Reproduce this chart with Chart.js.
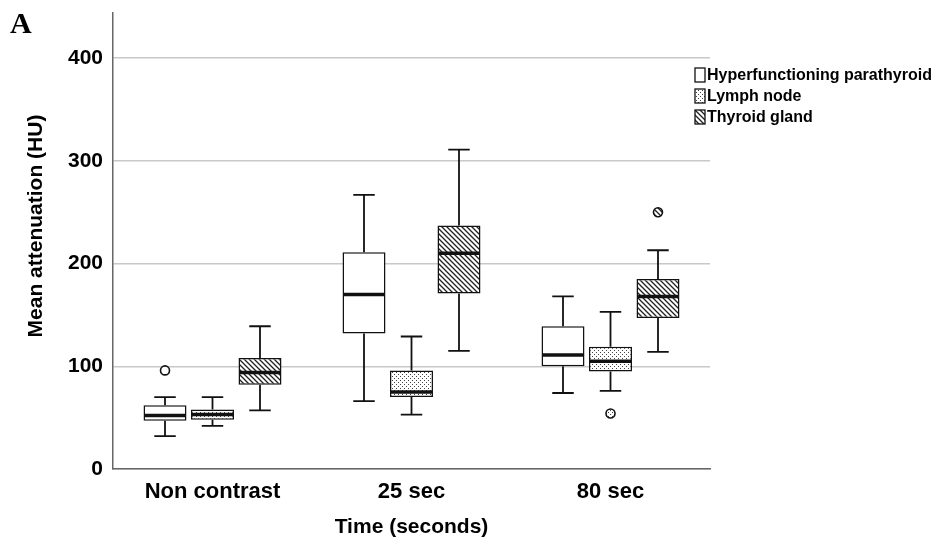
<!DOCTYPE html>
<html>
<head>
<meta charset="utf-8">
<script src="https://cdn.jsdelivr.net/npm/chart.js@4.4.1/dist/chart.umd.min.js"></script>
<style>
  html, body { margin: 0; padding: 0; background: #fff; }
  #wrap { width: 936px; height: 547px; position: relative; }
</style>
</head>
<body>
<div id="wrap"><canvas id="boxChart"></canvas></div>
<script>
const categories = ["Non contrast", "25 sec", "80 sec"];
const seriesNames = ["Hyperfunctioning parathyroid", "Lymph node", "Thyroid gland"];

// box plot values (HU)
const paraMin = [32, 66, 74];
const paraQ1 = [47, 132, 100];
const paraMedian = [52, 170, 111];
const paraQ3 = [62, 211, 139];
const paraMax = [70, 267, 168];
const paraOutliers = [[96], [], []];

const lymphMin = [42, 53, 76];
const lymphQ1 = [48, 70, 95];
const lymphMedian = [53, 75, 105];
const lymphQ3 = [58, 96, 119];
const lymphMax = [70, 129, 153];
const lymphOutliers = [[], [], [54]];

const thyroidMin = [57, 115, 114];
const thyroidQ1 = [82, 171, 147];
const thyroidMedian = [94, 210, 168];
const thyroidQ3 = [108, 237, 185];
const thyroidMax = [139, 311, 213];
const thyroidOutliers = [[], [], [250]];

const yTicks = [0, 100, 200, 300, 400];
const yTitle = "Mean attenuation (HU)";

const FONT = "'Liberation Sans', Arial, sans-serif";

function makeDots() {
  const c = document.createElement("canvas");
  c.width = 4;
  c.height = 4;
  const g = c.getContext("2d");
  g.fillStyle = "#fff";
  g.fillRect(0, 0, 4, 4);
  g.fillStyle = "#444";
  g.fillRect(0, 0, 1, 1);
  g.fillRect(2, 2, 1, 1);
  return g.createPattern(c, "repeat");
}

function makeHatch() {
  const s = 5;
  const c = document.createElement("canvas");
  c.width = s;
  c.height = s;
  const g = c.getContext("2d");
  g.fillStyle = "#fff";
  g.fillRect(0, 0, s, s);
  g.strokeStyle = "#222";
  g.lineWidth = 1.3;
  g.beginPath();
  g.moveTo(-1, -1);
  g.lineTo(s + 1, s + 1);
  g.moveTo(-1, s - 1);
  g.lineTo(1, s + 1);
  g.moveTo(s - 1, -1);
  g.lineTo(s + 1, 1);
  g.stroke();
  return g.createPattern(c, "repeat");
}

const fills = ["#ffffff", makeDots(), makeHatch()];

const boxes = [
  { min: paraMin, q1: paraQ1, med: paraMedian, q3: paraQ3, max: paraMax, out: paraOutliers },
  { min: lymphMin, q1: lymphQ1, med: lymphMedian, q3: lymphQ3, max: lymphMax, out: lymphOutliers },
  { min: thyroidMin, q1: thyroidQ1, med: thyroidMedian, q3: thyroidQ3, max: thyroidMax, out: thyroidOutliers },
];

const datasets = boxes.map(function (b, i) {
  return {
    label: seriesNames[i],
    data: b.q1.map(function (v, j) { return [v, b.q3[j]]; }),
    backgroundColor: fills[i],
    borderColor: "#111",
    borderWidth: 1.5,
    borderSkipped: false,
    categoryPercentage: 0.716,
    barPercentage: 0.905,
  };
});

// whiskers, medians, outliers, legend and y title drawn on top
const boxPlotPlugin = {
  id: "boxPlot",
  afterDatasetsDraw(chart) {
    const ctx = chart.ctx;
    const y = chart.scales.y;
    ctx.save();
    ctx.strokeStyle = "#111";
    boxes.forEach(function (b, i) {
      const meta = chart.getDatasetMeta(i);
      meta.data.forEach(function (bar, j) {
        const x = bar.x;
        const half = bar.width / 2;
        const cap = bar.width / 4;
        ctx.lineWidth = 1.8;
        ctx.beginPath();
        ctx.moveTo(x, y.getPixelForValue(b.q3[j]));
        ctx.lineTo(x, y.getPixelForValue(b.max[j]));
        ctx.moveTo(x - cap, y.getPixelForValue(b.max[j]));
        ctx.lineTo(x + cap, y.getPixelForValue(b.max[j]));
        ctx.moveTo(x, y.getPixelForValue(b.q1[j]));
        ctx.lineTo(x, y.getPixelForValue(b.min[j]));
        ctx.moveTo(x - cap, y.getPixelForValue(b.min[j]));
        ctx.lineTo(x + cap, y.getPixelForValue(b.min[j]));
        ctx.stroke();

        ctx.lineWidth = 3.5;
        ctx.beginPath();
        ctx.moveTo(x - half + 1, y.getPixelForValue(b.med[j]));
        ctx.lineTo(x + half - 1, y.getPixelForValue(b.med[j]));
        ctx.stroke();

        b.out[j].forEach(function (v) {
          ctx.lineWidth = 1.6;
          ctx.fillStyle = fills[i];
          ctx.beginPath();
          ctx.arc(x, y.getPixelForValue(v), 4.5, 0, Math.PI * 2);
          ctx.fill();
          ctx.stroke();
        });
      });
    });
    ctx.restore();
  },
  afterDraw(chart) {
    const ctx = chart.ctx;
    ctx.save();
    // panel letter
    ctx.fillStyle = "#000";
    ctx.font = "bold 30px 'Liberation Serif', 'Times New Roman', serif";
    ctx.textBaseline = "alphabetic";
    ctx.textAlign = "left";
    ctx.fillText("A", 10, 33);

    // y axis title, a bit above the plot centre as in the original
    ctx.save();
    ctx.translate(36, 226);
    ctx.rotate(-Math.PI / 2);
    ctx.font = "bold 21px " + FONT;
    ctx.textAlign = "center";
    ctx.textBaseline = "middle";
    ctx.fillText(yTitle, 0, 0);
    ctx.restore();

    // legend
    const left = chart.chartArea.right - 15;
    const top0 = 68;
    const step = 21;
    ctx.font = "bold 16px " + FONT;
    ctx.textBaseline = "middle";
    seriesNames.forEach(function (name, i) {
      const t = top0 + i * step;
      ctx.fillStyle = fills[i];
      ctx.fillRect(left, t, 10, 14);
      ctx.strokeStyle = "#111";
      ctx.lineWidth = 1.3;
      ctx.strokeRect(left, t, 10, 14);
      ctx.fillStyle = "#000";
      ctx.fillText(name, left + 12, t + 7.5);
    });
    ctx.restore();
  },
};

const ctx = document.getElementById("boxChart").getContext("2d");
new Chart(ctx, {
  type: "bar",
  data: { labels: categories, datasets: datasets },
  options: {
    responsive: true,
    maintainAspectRatio: false,
    animation: false,
    layout: { padding: { top: 13, right: 226, left: 0, bottom: 0 } },
    plugins: {
      legend: { display: false },
      tooltip: { enabled: false },
    },
    scales: {
      x: {
        grid: { display: false, drawTicks: false },
        border: { display: true, color: "#666", width: 1.5 },
        ticks: { color: "#000", padding: 10, font: { family: FONT, size: 22, weight: "bold" } },
        title: {
          display: true,
          text: "Time (seconds)",
          color: "#000",
          padding: { top: 0, bottom: 7 },
          font: { family: FONT, size: 21, weight: "bold" },
        },
        afterFit: function (scale) {
          scale.height = 78;
          scale.paddingLeft = 0;
          scale.paddingRight = 0;
        },
      },
      y: {
        min: 0,
        max: 444,
        grid: { color: "#c8c8c8", lineWidth: 1.5, drawTicks: false },
        border: { display: true, color: "#666", width: 1.5 },
        ticks: {
          color: "#000",
          padding: 10,
          stepSize: 100,
          font: { family: FONT, size: 21, weight: "bold" },
        },
        afterBuildTicks: function (scale) {
          scale.ticks = yTicks.map(function (v) { return { value: v }; });
        },
        afterFit: function (scale) {
          scale.width = 113;
          scale.paddingTop = 0;
          scale.paddingBottom = 0;
        },
      },
    },
  },
  plugins: [boxPlotPlugin],
});
</script>
</body>
</html>
